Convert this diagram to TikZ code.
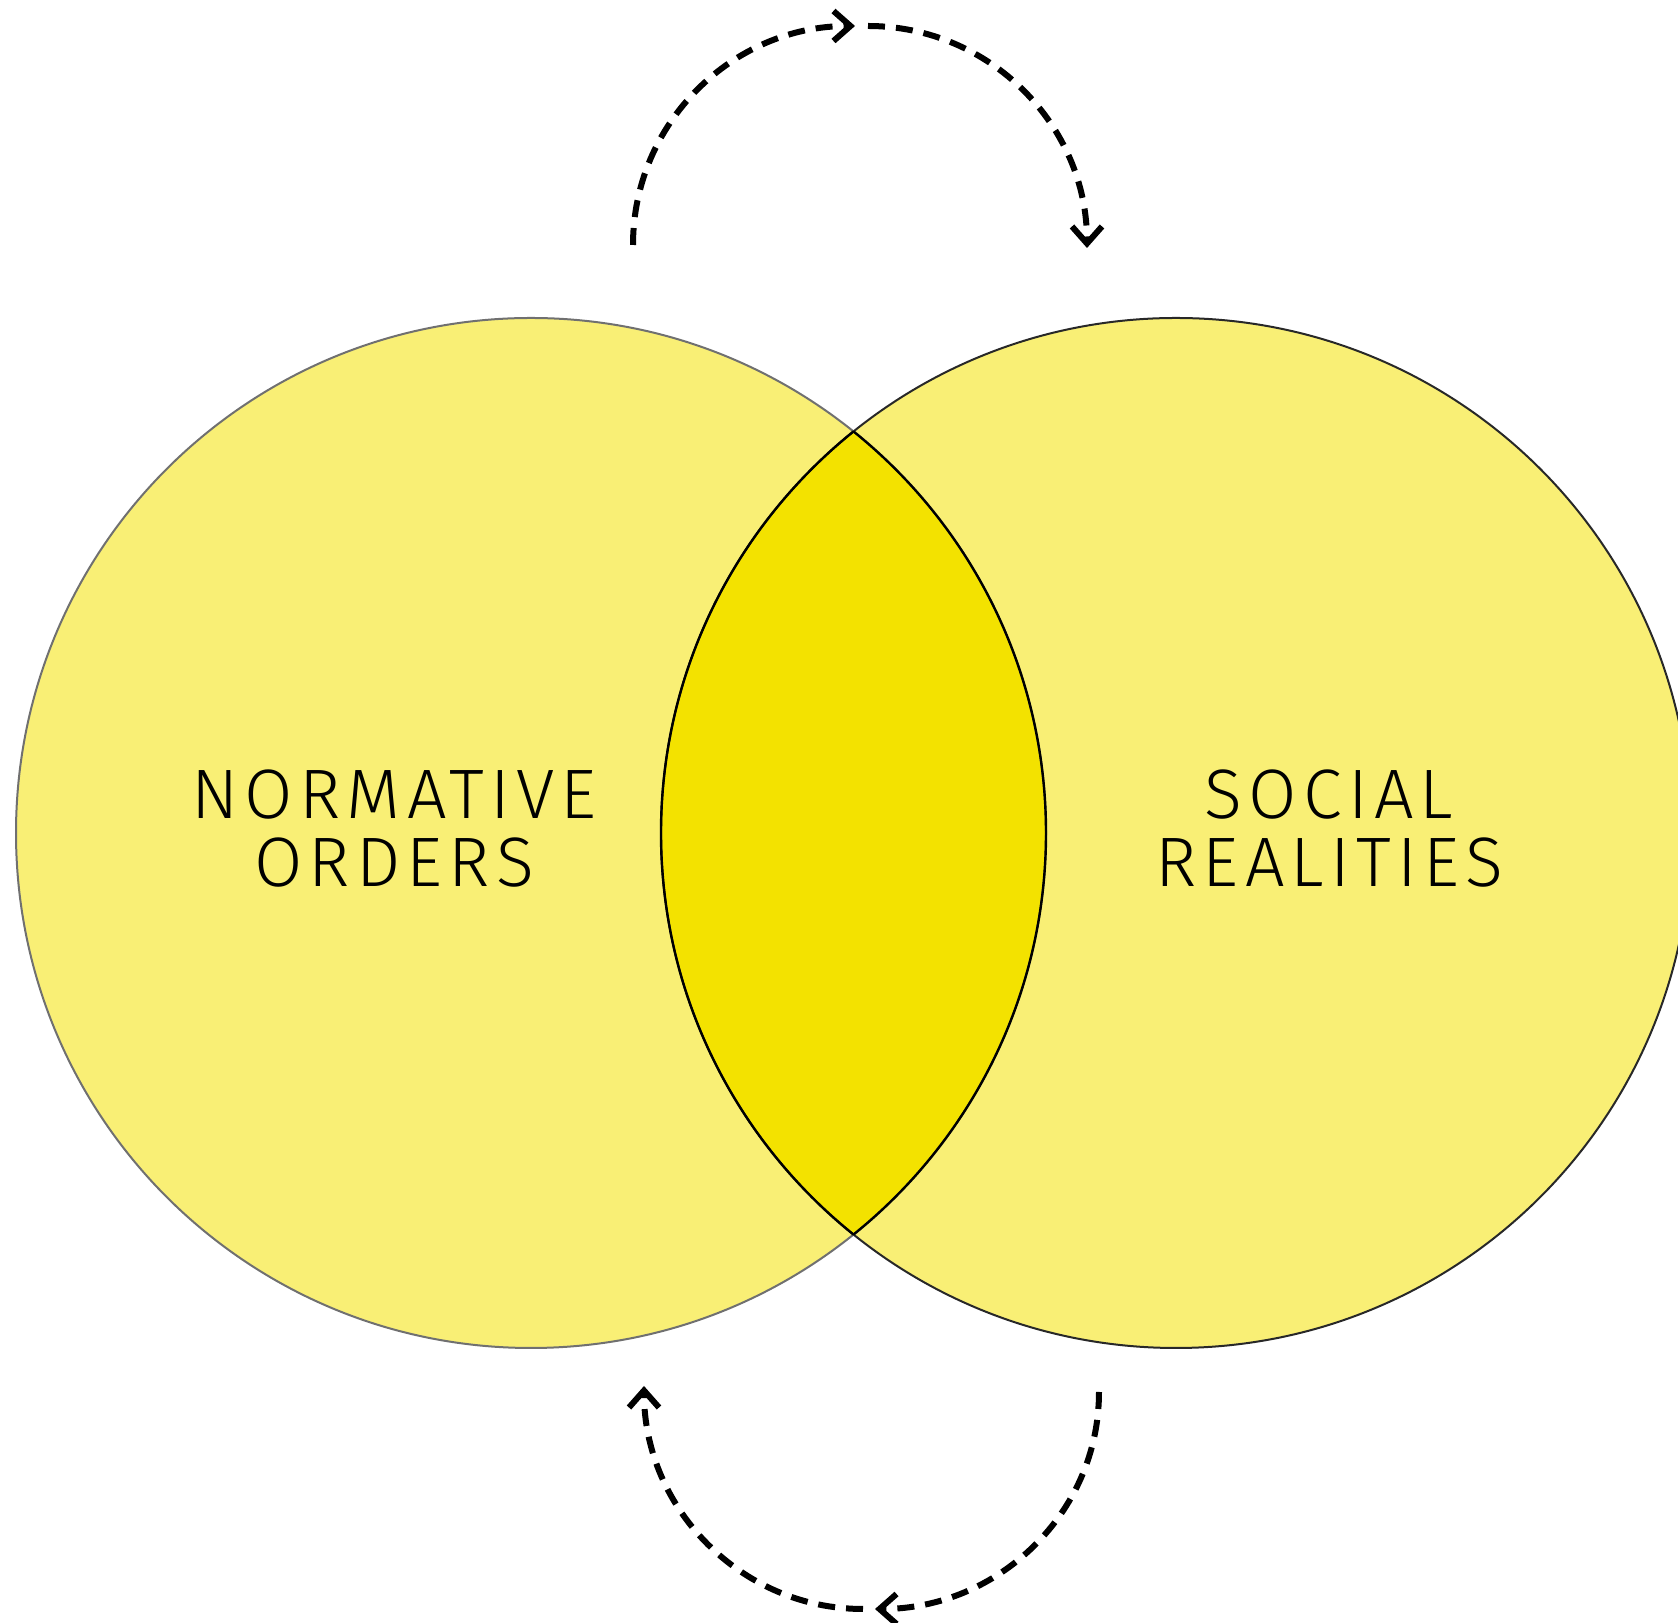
\documentclass[tikz,border=0pt]{standalone}
\usepackage{fontspec}
\newfontfamily\lblfont{Fira Sans Light}[LetterSpace=9]
\usetikzlibrary{arrows.meta}
\definecolor{lightyel}{RGB}{249,239,117}
\definecolor{deepyel}{RGB}{243,226,0}
\definecolor{leftedge}{RGB}{112,112,112}
\definecolor{rightedge}{RGB}{40,40,40}
\tikzset{
  cyclearrow/.style={line width=3pt, dash pattern=on 8.5pt off 5.5pt,
    -{Straight Barb[length=8.5pt,width=15pt,line width=3pt]}},
  label/.style={font=\lblfont\fontsize{35}{34}\selectfont, align=center, text=black, inner sep=0pt}
}
\begin{document}
\begin{tikzpicture}[x=0.5pt,y=0.5pt]
\useasboundingbox (0,0) rectangle (1678,1623);
\clip (0,0) rectangle (1678,1623);
% circles
\coordinate (cl) at (531,790);
\coordinate (cr) at (1176,790);
\fill[lightyel] (cl) circle[radius=515];
\fill[lightyel] (cr) circle[radius=515];
\begin{scope}
  \clip (cl) circle[radius=515];
  \fill[deepyel] (cr) circle[radius=515];
\end{scope}
\draw[leftedge, line width=1pt] (cl) circle[radius=515];
\draw[rightedge, line width=1pt] (cr) circle[radius=515];
\begin{scope}
  \clip (cl) circle[radius=515];
  \draw[black, line width=1.2pt] (cr) circle[radius=515];
\end{scope}
\begin{scope}
  \clip (cr) circle[radius=515];
  \draw[black, line width=1.2pt] (cl) circle[radius=515];
\end{scope}
% labels
\node[label] (norm) at (394,794.5) {NORMATIVE\\ORDERS};
\node[label] (soc) at (1329,794.5) {SOCIAL\\REALITIES};
% top cycle arrows
\coordinate (t1s) at (633,1378);
\coordinate (t1e) at (855,1597);
\coordinate (t2s) at (868,1597);
\coordinate (t2e) at (1087,1375);
\draw[cyclearrow] (t1s) to[out=90,in=180] (t1e);
\draw[cyclearrow] (t2s) to[out=0,in=90] (t2e);
% bottom cycle arrows
\coordinate (b1s) at (1099,231);
\coordinate (b1e) at (875,14);
\coordinate (b2s) at (863,14);
\coordinate (b2e) at (644,237);
\draw[cyclearrow] (b1s) to[out=-90,in=0] (b1e);
\draw[cyclearrow] (b2s) to[out=180,in=-90] (b2e);
\end{tikzpicture}
\end{document}
